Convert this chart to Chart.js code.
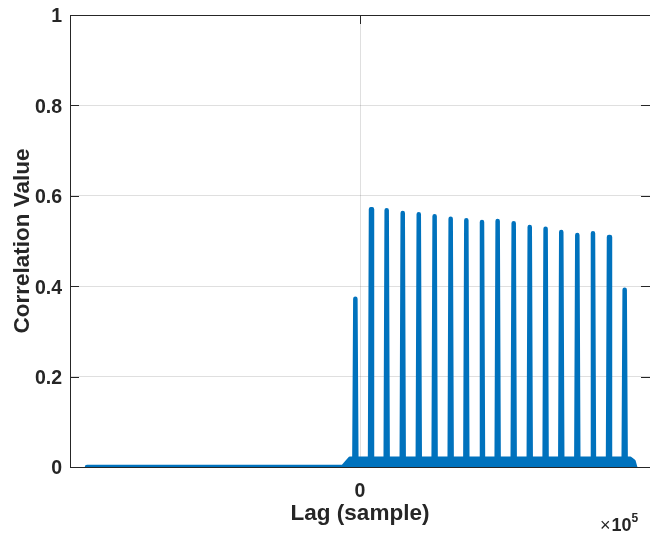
<!DOCTYPE html>
<html>
<head>
<meta charset="utf-8">
<script src="https://cdn.jsdelivr.net/npm/chart.js@4"></script>
<style>
  html, body { margin: 0; padding: 0; background: #fff; }
  #wrap { width: 650px; height: 533px; overflow: hidden; position: relative; }
  #c { position: absolute; left: 0; top: 0; }
</style>
</head>
<body>
<div id="wrap"><canvas id="c" width="660" height="533"></canvas></div>
<script>
// ---- data ----
const xTickValues = [0];
const yTickValues = [0, 0.2, 0.4, 0.6, 0.8, 1];
const spikeLags = [-2400, 5700, 13800, 22100, 30400, 38600, 46900, 55000, 63100,
                   71200, 79500, 87800, 96000, 104100, 112400, 120500, 128800, 136900];
const spikePeaks = [0.372, 0.570, 0.568, 0.562, 0.559, 0.555, 0.549, 0.546, 0.542,
                    0.544, 0.539, 0.531, 0.527, 0.520, 0.513, 0.517, 0.509, 0.392];
const floorLags   = [-141200, -8800, -5200, 139800, 141500, 142300];
const floorValues = [0, 0, 0.018, 0.018, 0.012, 0];
const spikeFoot = 0.015;
const spikeHalfWidth = 500;
const xLimits = [-150000, 150000];
const yLimits = [0, 1];

const BLUE = '#0072BD';
const INK = '#262626';
const FONT = "'Liberation Sans', Arial, Helvetica, sans-serif";

const floorPts = floorLags.map((x, i) => ({x, y: floorValues[i]}));
const spikePts = [];
spikeLags.forEach((x, i) => {
  spikePts.push({x: x - spikeHalfWidth, y: spikeFoot});
  spikePts.push({x: x, y: spikePeaks[i]});
  spikePts.push({x: x + spikeHalfWidth, y: spikeFoot});
});

const boxPlugin = {
  id: 'box',
  beforeDatasetsDraw(chart) {
    const {ctx, chartArea: a, scales} = chart;
    ctx.save();
    ctx.strokeStyle = INK;
    ctx.lineWidth = 1;
    ctx.strokeRect(a.left + 0.5, a.top + 0.5, a.right - a.left, a.bottom - a.top);
    const tl = 9;
    ctx.beginPath();
    yTickValues.forEach(v => {
      const y = Math.round(scales.y.getPixelForValue(v)) + 0.5;
      ctx.moveTo(a.left, y); ctx.lineTo(a.left + tl, y);
      ctx.moveTo(a.right, y); ctx.lineTo(a.right - tl, y);
    });
    xTickValues.forEach(v => {
      const x = Math.round(scales.x.getPixelForValue(v)) + 0.5;
      ctx.moveTo(x, a.top); ctx.lineTo(x, a.top + tl);
      ctx.moveTo(x, a.bottom); ctx.lineTo(x, a.bottom - tl);
    });
    ctx.stroke();
    ctx.restore();
  },
  afterDraw(chart) {
    const {ctx} = chart;
    ctx.save();
    ctx.fillStyle = INK;
    ctx.textBaseline = 'alphabetic';
    ctx.textAlign = 'left';
    let x = 600, y = 531;
    ctx.font = "18px " + FONT;
    ctx.fillText('\u00d7', x, y);
    x += ctx.measureText('\u00d7').width + 1;
    ctx.font = "bold 18px " + FONT;
    ctx.fillText('10', x, y);
    x += ctx.measureText('10').width;
    ctx.font = "bold 12px " + FONT;
    ctx.fillText('5', x, y - 9);
    ctx.restore();
  }
};

new Chart(document.getElementById('c'), {
  type: 'line',
  data: {
    datasets: [
      {
        data: floorPts,
        borderColor: BLUE, backgroundColor: BLUE, borderWidth: 4.5,
        fill: 'origin', pointRadius: 0, tension: 0,
        borderCapStyle: 'round', borderJoinStyle: 'round'
      },
      {
        data: spikePts,
        borderColor: BLUE, backgroundColor: BLUE, borderWidth: 4.5,
        fill: false, pointRadius: 0, tension: 0,
        borderCapStyle: 'round', borderJoinStyle: 'round'
      }
    ]
  },
  options: {
    responsive: false,
    animation: false,
    events: [],
    layout: { padding: { top: 15, right: 10, left: 0, bottom: 0 } },
    plugins: { legend: { display: false }, tooltip: { enabled: false } },
    scales: {
      x: {
        type: 'linear', min: xLimits[0], max: xLimits[1],
        afterFit(s) { s.height = 66; s.paddingLeft = 0; s.paddingRight = 0; },
        afterBuildTicks(s) { s.ticks = xTickValues.map(v => ({value: v})); },
        grid: { color: 'rgba(38,38,38,0.15)', drawTicks: false },
        border: { display: false },
        ticks: { color: INK, padding: 13, maxRotation: 0,
                 font: { family: FONT, size: 19.5, weight: 'bold' },
                 callback: v => String(v) },
        title: { display: true, text: 'Lag (sample)', color: INK,
                 font: { family: FONT, size: 22.5, weight: 'bold' },
                 padding: { top: 0, bottom: 6 } }
      },
      y: {
        type: 'linear', min: yLimits[0], max: yLimits[1],
        afterFit(s) { s.width = 70; s.paddingTop = 0; s.paddingBottom = 0; },
        afterBuildTicks(s) { s.ticks = yTickValues.map(v => ({value: v})); },
        grid: { color: 'rgba(38,38,38,0.15)', drawTicks: false },
        border: { display: false },
        ticks: { color: INK, padding: 8, labelOffset: 2,
                 font: { family: FONT, size: 19.5, weight: 'bold' },
                 callback: v => String(v) },
        title: { display: true, text: 'Correlation Value', color: INK,
                 font: { family: FONT, size: 22.5, weight: 'bold' },
                 padding: { top: 9, bottom: 0 } }
      }
    }
  },
  plugins: [boxPlugin]
});
</script>
</body>
</html>
